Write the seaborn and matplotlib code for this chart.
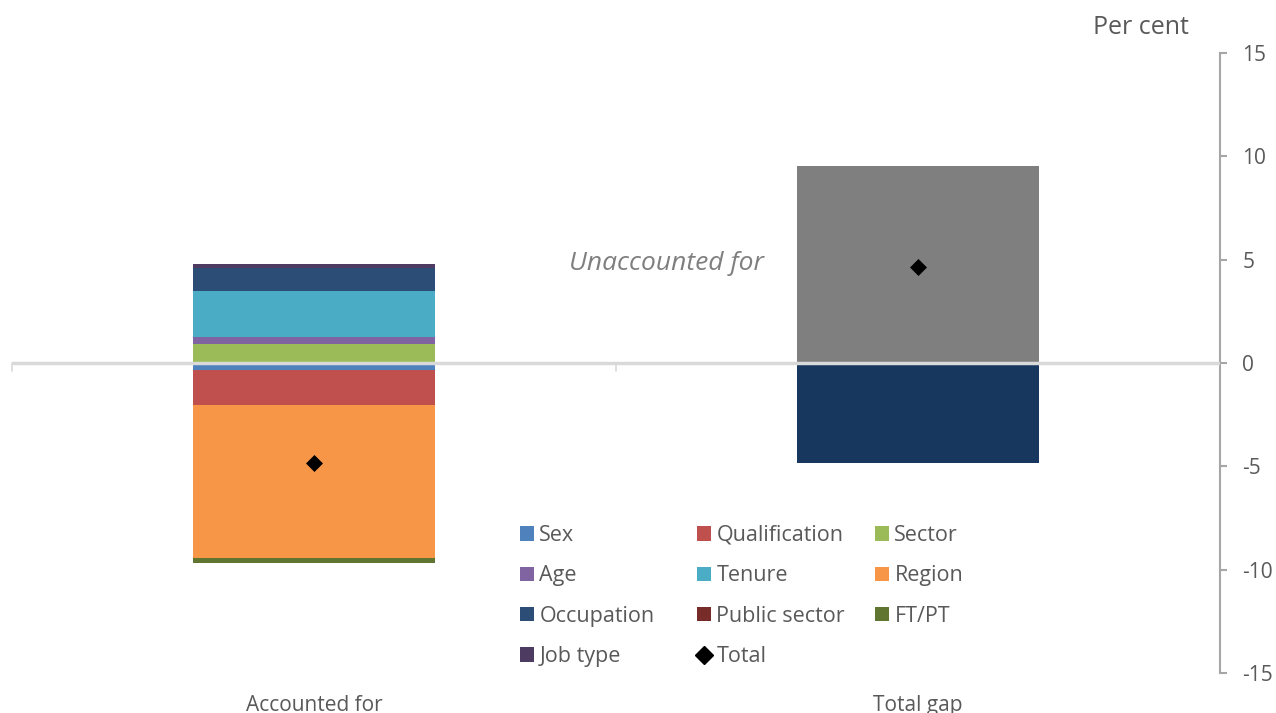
import matplotlib
matplotlib.use("Agg")
import matplotlib.pyplot as plt
from matplotlib.patches import Patch
from matplotlib.lines import Line2D
import seaborn as sns
import numpy as np
import pandas as pd

# ---- data ----
categories = ["Accounted for", "Total gap"]
components = ["Sex", "Qualification", "Sector", "Age", "Tenure", "Region",
              "Occupation", "Public sector", "FT/PT", "Job type"]
accounted_values = [-0.34, -1.70, 0.92, 0.34, 2.23, -7.38, 1.13, 0.0, -0.24, 0.18]
unaccounted_value = 9.51
accounted_total = -4.85
totals = [-4.85, 4.66]

colors = {"Sex": "#4F81BD", "Qualification": "#C0504D", "Sector": "#9BBB59",
          "Age": "#8064A2", "Tenure": "#4BACC6", "Region": "#F79646",
          "Occupation": "#2C4D75", "Public sector": "#772C2A", "FT/PT": "#5F7530",
          "Job type": "#4D3B62"}
gap_unacc_color = "#7F7F7F"
gap_acc_color = "#17375E"

sns.set_style("white")
plt.rcParams["font.family"] = ["Open Sans", "DejaVu Sans"]
plt.rcParams["axes.unicode_minus"] = False

fig = plt.figure(figsize=(12.76, 7.13), dpi=100)
ax = fig.add_axes([12/1276, 40/713, (1220-12)/1276, (673-53)/713])

BAR_W = 0.4

# stacked bars for "Accounted for": overlay cumulative bars (largest first)
order_pos = ["Sector", "Age", "Tenure", "Occupation", "Job type"]
order_neg = ["Sex", "Qualification", "Region", "Public sector", "FT/PT"]
val = dict(zip(components, accounted_values))

def cum(order):
    out, s = [], 0.0
    for c in order:
        s += val[c]
        out.append((c, s))
    return out

layers = list(reversed(cum(order_pos))) + list(reversed(cum(order_neg)))
for comp, h in layers:
    df = pd.DataFrame({"cat": categories, "v": [h, 0.0]})
    sns.barplot(data=df, x="cat", y="v", order=categories, color=colors[comp],
                width=BAR_W, saturation=1, errorbar=None, ax=ax, linewidth=0)

# Total gap bar: unaccounted (positive) and accounted (negative)
df = pd.DataFrame({"cat": categories, "v": [0.0, unaccounted_value]})
sns.barplot(data=df, x="cat", y="v", order=categories, color=gap_unacc_color,
            width=BAR_W, saturation=1, errorbar=None, ax=ax, linewidth=0)
df = pd.DataFrame({"cat": categories, "v": [0.0, accounted_total]})
sns.barplot(data=df, x="cat", y="v", order=categories, color=gap_acc_color,
            width=BAR_W, saturation=1, errorbar=None, ax=ax, linewidth=0)

# totals
dft = pd.DataFrame({"cat": categories, "v": totals})
sns.scatterplot(data=dft, x="cat", y="v", marker="D", color="black", s=75,
                ax=ax, zorder=5, edgecolor="black", linewidth=0)

# axes styling
ax.set_xlim(-0.5, 1.5)
ax.set_ylim(-15, 15)
ax.set_yticks(np.arange(-15, 16, 5))
ax.yaxis.tick_right()
ax.yaxis.set_label_position("right")
ax.set_ylabel("")
ax.set_xlabel("")
for s in ["top", "left", "bottom"]:
    ax.spines[s].set_visible(False)
ax.spines["right"].set_color("#A6A6A6")
ax.spines["right"].set_linewidth(1.5)
ax.tick_params(axis="y", which="both", right=True, left=False, direction="out",
               length=5, width=1.5, color="#A6A6A6", labelcolor="#595959",
               labelsize=15, pad=11)
ax.set_xticks([])

# zero line with category tick marks
ax.axhline(0, color="#D9D9D9", linewidth=2.5, zorder=3)
for xb in [-0.5, 0.5]:
    ax.plot([xb, xb], [0, -0.4], color="#D9D9D9", linewidth=1.2, zorder=3,
            clip_on=False)

# category labels
for i, c in enumerate(categories):
    ax.text(i, -16.55, c, ha="center", va="center", fontsize=15, color="#595959")

ax.text(0.745, 4.8, "Unaccounted for", ha="right", va="center", fontsize=19,
        style="italic", color="#7F7F7F")

fig.text(1141/1276, 1-28/713, "Per cent", ha="center", va="center",
         fontsize=18, color="#595959")

# legend: one legend per column for exact placement
handles = {c: Patch(facecolor=colors[c], edgecolor="none") for c in components}
handles["Total"] = Line2D([], [], marker="D", color="black", linestyle="none",
                          markersize=9)
columns = [(520, ["Sex", "Age", "Occupation", "Job type"]),
           (697, ["Qualification", "Tenure", "Public sector", "Total"]),
           (875, ["Sector", "Region", "FT/PT"])]
for xpx, labels in columns:
    leg = fig.legend([handles[k] for k in labels], labels, ncol=1,
                     loc="upper left", bbox_to_anchor=(xpx/1276, 1-525/713),
                     frameon=False, fontsize=15.5, handlelength=0.65,
                     handleheight=0.65, handletextpad=0.25, labelspacing=0.9,
                     borderaxespad=0, borderpad=0)
    for t in leg.get_texts():
        t.set_color("#595959")

fig.savefig("out.png", dpi=100)
